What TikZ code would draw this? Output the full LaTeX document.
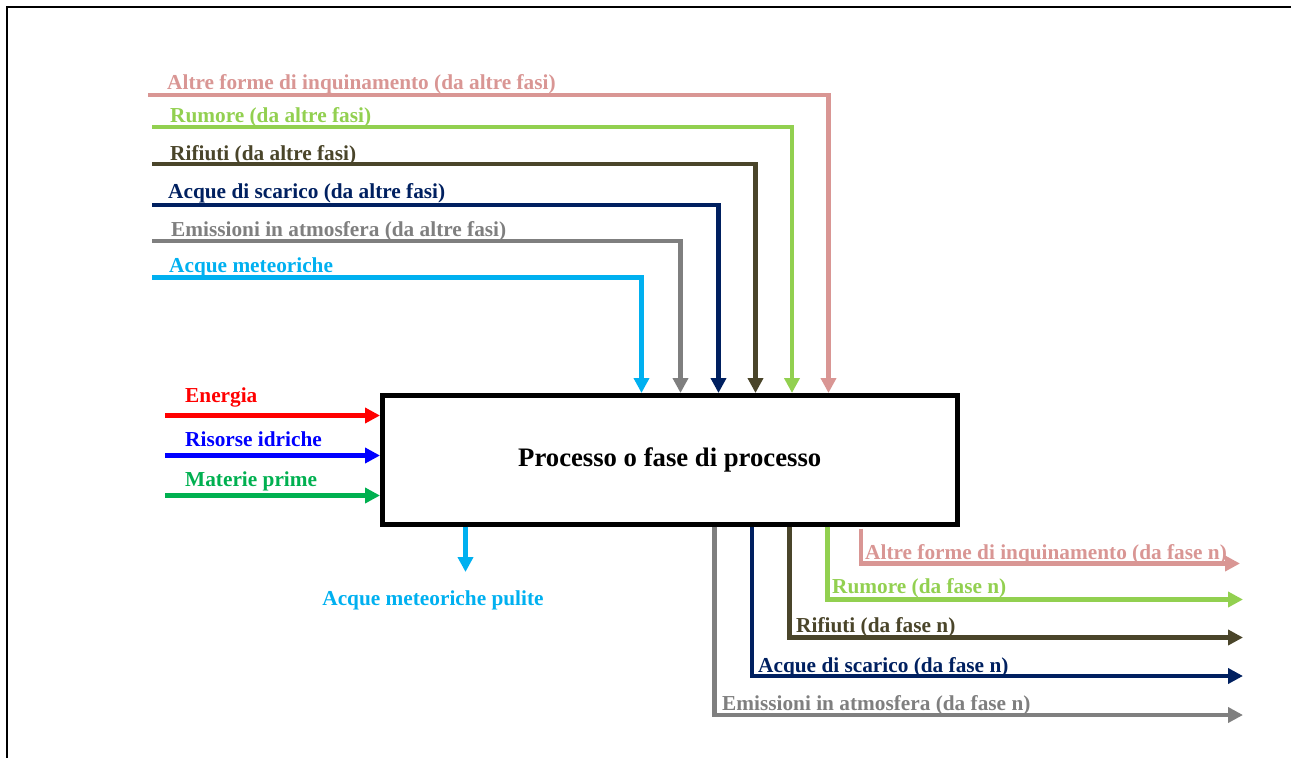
\documentclass[tikz,border=0pt]{standalone}
\usepackage{fontspec}
\setmainfont{Liberation Serif}
\usetikzlibrary{arrows.meta}
\definecolor{cPink}{HTML}{D99694}
\definecolor{cLime}{HTML}{92D050}
\definecolor{cOlive}{HTML}{4A452A}
\definecolor{cNavy}{HTML}{002060}
\definecolor{cGray}{HTML}{7F7F7F}
\definecolor{cSky}{HTML}{00B0F0}
\definecolor{cRed}{HTML}{FF0000}
\definecolor{cBlue}{HTML}{0000FF}
\definecolor{cGreen}{HTML}{00B050}
\begin{document}
\begin{tikzpicture}[x=1pt,y=-1pt,
  flow/.style={line width=4.6pt, line join=miter,
    -{Triangle[length=15pt,width=15pt]}},
  lbl/.style={anchor=base west, inner sep=0pt, font=\fontsize{21.3}{25}\selectfont\bfseries},
  procbox/.style={draw, line width=5pt, minimum width=574.5pt, minimum height=128.5pt,
    inner sep=0pt, font=\fontsize{26.7}{30}\selectfont\bfseries}]
\useasboundingbox (0,0) rectangle (1291,758);
% page frame
\draw[line width=2pt] (1291,6.5) -- (6.5,6.5) -- (6.5,758);

% incoming flows from other phases
\coordinate (sAltre) at (148,95);
\coordinate (sRum)   at (152,127);
\coordinate (sRif)   at (152,164);
\coordinate (sScar)  at (152,205);
\coordinate (sEmi)   at (152,241);
\coordinate (sMet)   at (152,277.5);
% direct inputs
\coordinate (sEn)  at (165,415.5);
\coordinate (sRis) at (165,455.5);
\coordinate (sMat) at (165,495.5);
% outputs
\coordinate (eAltre) at (1240,563.5);
\coordinate (eRum)   at (1243,599.5);
\coordinate (eRif)   at (1243,637.5);
\coordinate (eScar)  at (1243,676);
\coordinate (eEmi)   at (1243,715);
\coordinate (ePul)   at (465.5,572);

\node[procbox] (box) at (669.75,459.75) {Processo o fase di processo};

\draw[flow,cPink]  (sAltre) -| (828.5,0 |- box.north);
\draw[flow,cLime]  (sRum)   -| (792,0 |- box.north);
\draw[flow,cOlive] (sRif)   -| (755.5,0 |- box.north);
\draw[flow,cNavy]  (sScar)  -| (718.5,0 |- box.north);
\draw[flow,cGray]  (sEmi)   -| (680.5,0 |- box.north);
\draw[flow,cSky]   (sMet)   -| (641.5,0 |- box.north);

\draw[flow,cRed]   (sEn)  -- (box.west |- sEn);
\draw[flow,cBlue]  (sRis) -- (box.west |- sRis);
\draw[flow,cGreen] (sMat) -- (box.west |- sMat);

\draw[flow,cSky] (box.south -| ePul) -- (ePul);

\draw[flow,cGray]  (box.south -| 714.5,0) |- (eEmi);
\draw[flow,cNavy]  (box.south -| 752,0) |- (eScar);
\draw[flow,cOlive] (box.south -| 789.5,0) |- (eRif);
\draw[flow,cLime]  (box.south -| 827.5,0) |- (eRum);
\draw[flow,cPink]  ([yshift=-2pt]box.south -| 861,0) |- (eAltre);

% labels
\node[lbl,text=cPink]  (lAltre) at (167,89) {Altre forme di inquinamento (da altre fasi)};
\node[lbl,text=cLime]  (lRum)   at (170,122.5) {Rumore (da altre fasi)};
\node[lbl,text=cOlive] (lRif)   at (170,160) {Rifiuti (da altre fasi)};
\node[lbl,text=cNavy]  (lScar)  at (168,198.5) {Acque di scarico (da altre fasi)};
\node[lbl,text=cGray]  (lEmi)   at (171,236) {Emissioni in atmosfera (da altre fasi)};
\node[lbl,text=cSky]   (lMet)   at (169,272) {Acque meteoriche};

\node[lbl,text=cRed]   (lEn)  at (185,402) {Energia};
\node[lbl,text=cBlue]  (lRis) at (185,446) {Risorse idriche};
\node[lbl,text=cGreen] (lMat) at (185,486) {Materie prime};

\node[lbl,anchor=base,text=cSky] (lPul) at (433,605) {Acque meteoriche pulite};

\node[lbl,text=cPink]  (oAltre) at (865,559) {Altre forme di inquinamento (da fase n)};
\node[lbl,text=cLime]  (oRum)   at (832,593.5) {Rumore (da fase n)};
\node[lbl,text=cOlive] (oRif)   at (796,632) {Rifiuti (da fase n)};
\node[lbl,text=cNavy]  (oScar)  at (758,672.5) {Acque di scarico (da fase n)};
\node[lbl,text=cGray]  (oEmi)   at (722,710) {Emissioni in atmosfera (da fase n)};
\end{tikzpicture}
\end{document}
